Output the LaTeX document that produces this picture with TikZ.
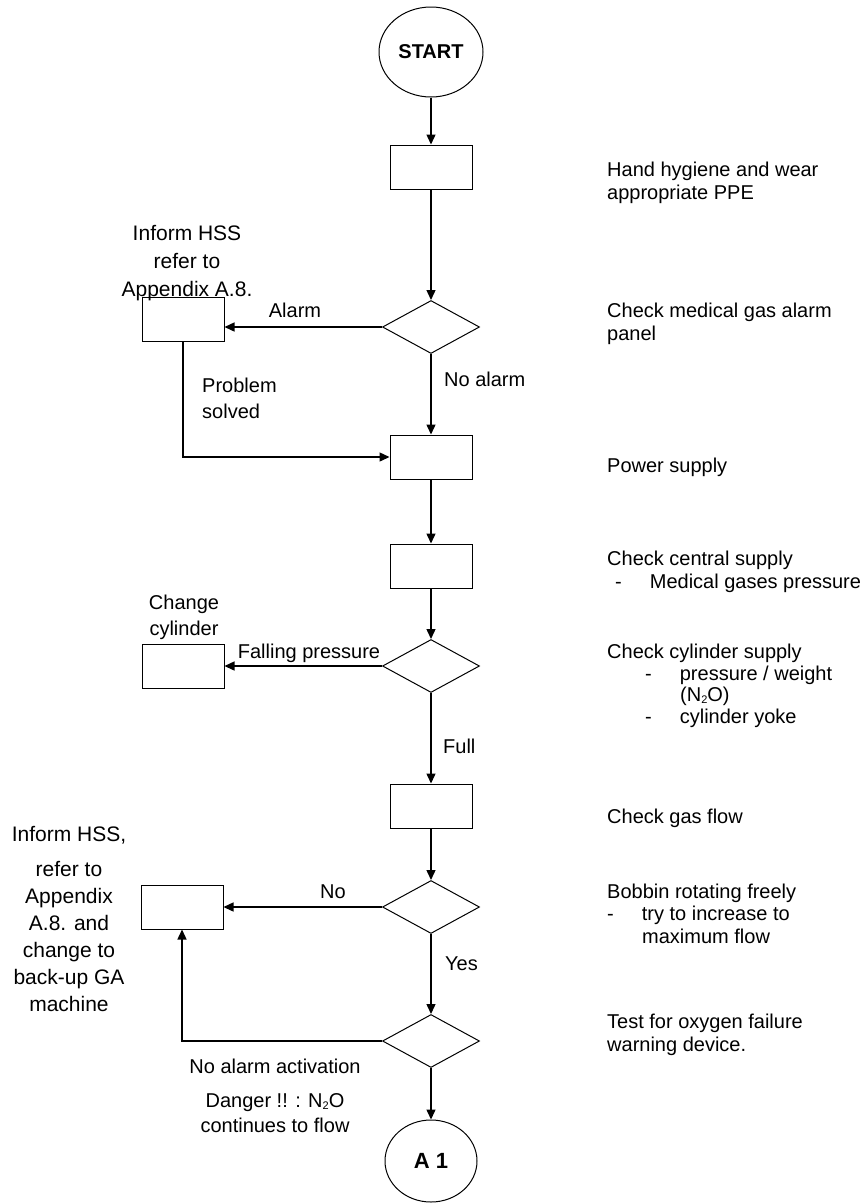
\documentclass[tikz,border=0pt]{standalone}
\usepackage{fontspec}
\setmainfont{Liberation Sans}
\usetikzlibrary{shapes.geometric,arrows.meta}
\newcommand{\subtwo}{\raisebox{-2pt}{\fontsize{11}{11}\selectfont 2}}

\begin{document}
\begin{tikzpicture}[x=1pt,y=-1pt,
                    every node/.style={inner sep=0pt},
                    txt/.style={font=\fontsize{20}{22.5}\selectfont,align=left,anchor=base west},
                    lbl/.style={font=\fontsize{20}{26}\selectfont},
                    box/.style={draw,line width=1pt,minimum width=82pt,minimum height=44pt},
                    dec/.style={draw,diamond,line width=1pt,minimum width=97pt,minimum height=53pt},
                    term/.style={draw,ellipse,line width=1pt,font=\bfseries\fontsize{20}{24}\selectfont},
                    flow/.style={line width=1.4pt,-{Triangle[length=10pt,width=9pt]}}]
                    \useasboundingbox (0,0) rectangle (868,1203);

                    \node[term,minimum width=104pt,minimum height=90pt] (start) at (431,52) {START};
                    \node[box] (b1) at (431,167) {};
                    \node[dec] (d1) at (431,327) {};
                    \node[box] (abox) at (183,319) {};
                    \node[box] (b2) at (431,457) {};
                    \node[box] (b3) at (431,566) {};
                    \node[dec] (d2) at (431,666) {};
                    \node[box] (cbox) at (183,666) {};
                    \node[box] (b4) at (431,806) {};
                    \node[dec] (d3) at (431,907) {};
                    \node[box] (hbox) at (182,907) {};
                    \node[dec] (d4) at (431,1041) {};
                    \node[term,minimum width=92pt,minimum height=82pt,font=\bfseries\fontsize{22}{26}\selectfont] (a1) at (431,1161) {A 1};

                    \node[lbl,align=center,font=\fontsize{21}{28}\selectfont,anchor=base] (hssA) at (187,296) {Inform HSS\\refer to\\Appendix A.8.};
                    \node[lbl,anchor=base] (alarm) at (295,317) {Alarm};
                    \node[lbl,anchor=base west] (noalarm) at (444,386) {No alarm};
                    \node[lbl,align=left,anchor=base west] (solved) at (202,418) {Problem\\solved};
                    \node[lbl,align=center,anchor=base] (chg) at (184,635) {Change\\cylinder};
                    \node[lbl,anchor=base] (fall) at (309,658) {Falling pressure};
                    \node[lbl,anchor=base west] (full) at (443,753) {Full};
                    \node[lbl,anchor=base] (no) at (333,898) {No};
                    \node[lbl,anchor=base west] (yes) at (445,970) {Yes};
                    \node[lbl,align=center,font=\fontsize{21}{27}\selectfont,anchor=base] (hssB) at (69,1011) {Inform HSS,\\[8pt]refer to\\Appendix\\A.8. and\\change to\\back-up GA\\machine};
                    \node[lbl,align=center,font=\fontsize{20}{25}\selectfont,anchor=base] (danger) at (275,1132) {No alarm activation\\[9pt]Danger !! : N\subtwo O\\continues to flow};

                    \node[txt] (t1) at (607,199) {Hand hygiene and wear\\appropriate PPE};
                    \node[txt] (t2) at (607,340) {Check medical gas alarm\\panel};
                    \node[txt] (t3) at (607,472) {Power supply};
                    \node[txt] (t4) at (607,588) {Check central supply\\\hspace*{8pt}-\hspace{28pt}Medical gases pressure};
                    \node[txt,font=\fontsize{20}{21.5}\selectfont] (t5) at (607,723) {Check cylinder supply\\\hspace*{38pt}-\hspace{28pt}pressure / weight\\\hspace*{73pt}(N\subtwo O)\\\hspace*{38pt}-\hspace{28pt}cylinder yoke};
                    \node[txt] (t6) at (607,823) {Check gas flow};
                    \node[txt] (t7) at (607,943) {Bobbin rotating freely\\-\hspace{28pt}try to increase to\\\hspace*{35pt}maximum flow};
                    \node[txt] (t8) at (607,1051) {Test for oxygen failure\\warning device.};

                    \draw[flow] (start) -- (b1);
                    \draw[flow] (b1) -- (d1);
                    \draw[flow] (d1.west) -- (d1.west -| abox.east);
                    \draw[flow] (d1) -- (b2);
                    \draw[flow] (abox.south) |- (b2.west);
                    \draw[flow] (b2) -- (b3);
                    \draw[flow] (b3) -- (d2);
                    \draw[flow] (d2) -- (cbox);
                    \draw[flow] (d2) -- (b4);
                    \draw[flow] (b4) -- (d3);
                    \draw[flow] (d3) -- (hbox);
                    \draw[flow] (d3) -- (d4);
                    \draw[flow] (d4.west) -| (hbox.south);
                    \draw[flow] (d4) -- (a1);
                \end{tikzpicture}
\end{document}
